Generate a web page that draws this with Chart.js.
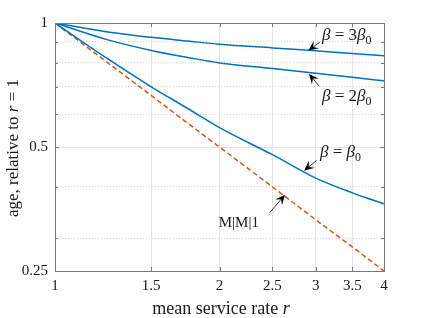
<!DOCTYPE html>
<html>
<head>
<meta charset="utf-8">
<script src="https://cdn.jsdelivr.net/npm/chart.js@4.4.1/dist/chart.umd.min.js"></script>
<style>
  html, body { margin: 0; padding: 0; background: #fff; }
  #wrap { width: 424px; height: 318px; }
</style>
</head>
<body>
<div id="wrap"><canvas id="ageChart" width="424" height="318"></canvas></div>
<script>
// values (log-log axes)
const rates = [1, 1.25, 1.5, 1.75, 2, 2.5, 3, 3.5, 4];
const beta3 = [1, 0.951, 0.923, 0.904, 0.888, 0.870, 0.856, 0.843, 0.833];
const beta2 = [1, 0.91, 0.858, 0.825, 0.800, 0.775, 0.755, 0.738, 0.724];
const beta1 = [1, 0.818, 0.70, 0.62, 0.557, 0.479, 0.42, 0.387, 0.364];
const mm1 = [1, 0.8, 0.667, 0.571, 0.5, 0.4, 0.333, 0.286, 0.25];

const xTicks = [1, 1.5, 2, 2.5, 3, 3.5, 4];
const yTicks = [0.25, 0.3, 0.4, 0.5, 0.6, 0.7, 0.8, 0.9, 1];
const yLabels = [0.25, 0.5, 1];

const BLUE = '#0072BD';
const ORANGE = '#D95319';
const AXIS = '#7a7a7a';
const SERIF = '"Liberation Serif", "DejaVu Serif", serif';

// arrows + labels, in data coordinates
const notes = [
  { tip: [2.908, 0.857], tail: [3.054, 0.899], at: [3.08, 0.931], align: 'left',
    parts: [{ t: 'β', it: true }, { t: ' = 3' }, { t: 'β', it: true }, { t: '0', sub: true }] },
  { tip: [2.916, 0.752], tail: [3.046, 0.702], at: [3.08, 0.663], align: 'left',
    parts: [{ t: 'β', it: true }, { t: ' = 2' }, { t: 'β', it: true }, { t: '0', sub: true }] },
  { tip: [2.856, 0.438], tail: [3.012, 0.464], at: [3.054, 0.484], align: 'left',
    parts: [{ t: 'β', it: true }, { t: ' = ' }, { t: 'β', it: true }, { t: '0', sub: true }] },
  { tip: [2.636, 0.383], tail: [2.474, 0.347], at: [2.17, 0.327], align: 'center', size: 15,
    parts: [{ t: 'M|M|1' }] }
];

function pts(ys) {
  return rates.map((r, i) => ({ x: r, y: ys[i] }));
}

function drawParts(ctx, parts, x, y, size, align) {
  const fontOf = p => (p.it ? 'italic ' : '') + (p.sub ? Math.round(size * 0.7) : size) + 'px ' + SERIF;
  let total = 0;
  parts.forEach(p => { ctx.font = fontOf(p); total += ctx.measureText(p.t).width; });
  let cx = align === 'center' ? x - total / 2 : x;
  ctx.textBaseline = 'middle';
  ctx.textAlign = 'left';
  parts.forEach(p => {
    ctx.font = fontOf(p);
    ctx.fillText(p.t, cx, p.sub ? y + size * 0.3 : y);
    cx += ctx.measureText(p.t).width;
  });
}

function arrow(ctx, x0, y0, x1, y1) {
  const a = Math.atan2(y1 - y0, x1 - x0);
  const len = 10, half = 4.5;
  ctx.strokeStyle = '#000';
  ctx.lineWidth = 0.8;
  ctx.beginPath();
  ctx.moveTo(x0, y0);
  ctx.lineTo(x1 - Math.cos(a) * 5, y1 - Math.sin(a) * 5);
  ctx.stroke();
  const bx = x1 - Math.cos(a) * len, by = y1 - Math.sin(a) * len;
  const nx = -Math.sin(a), ny = Math.cos(a);
  ctx.fillStyle = '#000';
  ctx.beginPath();
  ctx.moveTo(x1, y1);
  ctx.lineTo(bx + nx * half, by + ny * half);
  ctx.lineTo(x1 - Math.cos(a) * len * 0.6, y1 - Math.sin(a) * len * 0.6);
  ctx.lineTo(bx - nx * half, by - ny * half);
  ctx.closePath();
  ctx.fill();
}

const decor = {
  id: 'decor',
  afterDraw(chart) {
    const { ctx, chartArea: a, scales: { x, y } } = chart;
    ctx.save();
    // box top/right
    ctx.strokeStyle = AXIS;
    ctx.lineWidth = 1;
    ctx.beginPath();
    ctx.moveTo(a.left, a.top + 0.5); ctx.lineTo(a.right + 0.5, a.top + 0.5);
    ctx.lineTo(a.right + 0.5, a.bottom);
    ctx.stroke();
    // inner ticks
    ctx.beginPath();
    xTicks.forEach(v => {
      const px = Math.round(x.getPixelForValue(v)) + 0.5;
      ctx.moveTo(px, a.bottom); ctx.lineTo(px, a.bottom - 4);
      ctx.moveTo(px, a.top); ctx.lineTo(px, a.top + 4);
    });
    yTicks.forEach(v => {
      const py = Math.round(y.getPixelForValue(v)) + 0.5;
      const l = yLabels.includes(v) ? 4 : 3;
      ctx.moveTo(a.left, py); ctx.lineTo(a.left + l, py);
      ctx.moveTo(a.right, py); ctx.lineTo(a.right - l, py);
    });
    ctx.stroke();

    // annotations
    notes.forEach(n => {
      arrow(ctx, x.getPixelForValue(n.tail[0]), y.getPixelForValue(n.tail[1]),
        x.getPixelForValue(n.tip[0]), y.getPixelForValue(n.tip[1]));
      ctx.fillStyle = '#1a1a1a';
      drawParts(ctx, n.parts, x.getPixelForValue(n.at[0]), y.getPixelForValue(n.at[1]), n.size || 17, n.align);
    });

    // axis titles
    ctx.fillStyle = '#1a1a1a';
    drawParts(ctx, [{ t: 'mean service rate ' }, { t: 'r', it: true }], 221, 309, 18, 'center');
    ctx.translate(14, 148);
    ctx.rotate(-Math.PI / 2);
    drawParts(ctx, [{ t: 'age, relative to ' }, { t: 'r', it: true }, { t: ' = 1' }], 0, 0, 17, 'center');
    ctx.restore();
  }
};

const line = (data, color, dash) => ({
  data: pts(data),
  borderColor: color,
  borderWidth: 1.5,
  borderDash: dash || [],
  pointRadius: 0,
  cubicInterpolationMode: 'monotone',
  fill: false
});

new Chart(document.getElementById('ageChart'), {
  type: 'line',
  data: {
    datasets: [
      line(beta3, BLUE),
      line(beta2, BLUE),
      line(beta1, BLUE),
      line(mm1, ORANGE, [5, 3])
    ]
  },
  options: {
    responsive: false,
    animation: false,
    layout: { padding: { left: 0, top: 23, right: 40, bottom: 0 } },
    plugins: { legend: { display: false }, tooltip: { enabled: false } },
    scales: {
      x: {
        type: 'logarithmic', min: 1, max: 4,
        afterBuildTicks: s => { s.ticks = xTicks.map(v => ({ value: v })); },
        afterFit: s => { s.height = 47; },
        ticks: {
          callback: v => String(v), autoSkip: false, maxRotation: 0,
          padding: 6, color: '#1a1a1a', font: { family: SERIF, size: 15 }
        },
        grid: { color: '#e4e4e4', lineWidth: 1, drawTicks: false },
        border: { color: AXIS, width: 1 }
      },
      y: {
        type: 'logarithmic', min: 0.25, max: 1,
        afterBuildTicks: s => { s.ticks = yTicks.map(v => ({ value: v })); },
        afterFit: s => { s.width = 55; },
        ticks: {
          callback: v => (yLabels.includes(v) ? String(v) : ''), autoSkip: false,
          padding: 7, color: '#1a1a1a', font: { family: SERIF, size: 15 }
        },
        grid: {
          color: c => (c.tick && yLabels.includes(c.tick.value) ? '#e4e4e4' : '#d6d6d6'),
          lineWidth: 1, drawTicks: false
        },
        border: {
          color: AXIS, width: 1,
          dash: c => (c.tick && !yLabels.includes(c.tick.value) ? [1, 2] : [])
        }
      }
    }
  },
  plugins: [decor]
});
</script>
</body>
</html>
